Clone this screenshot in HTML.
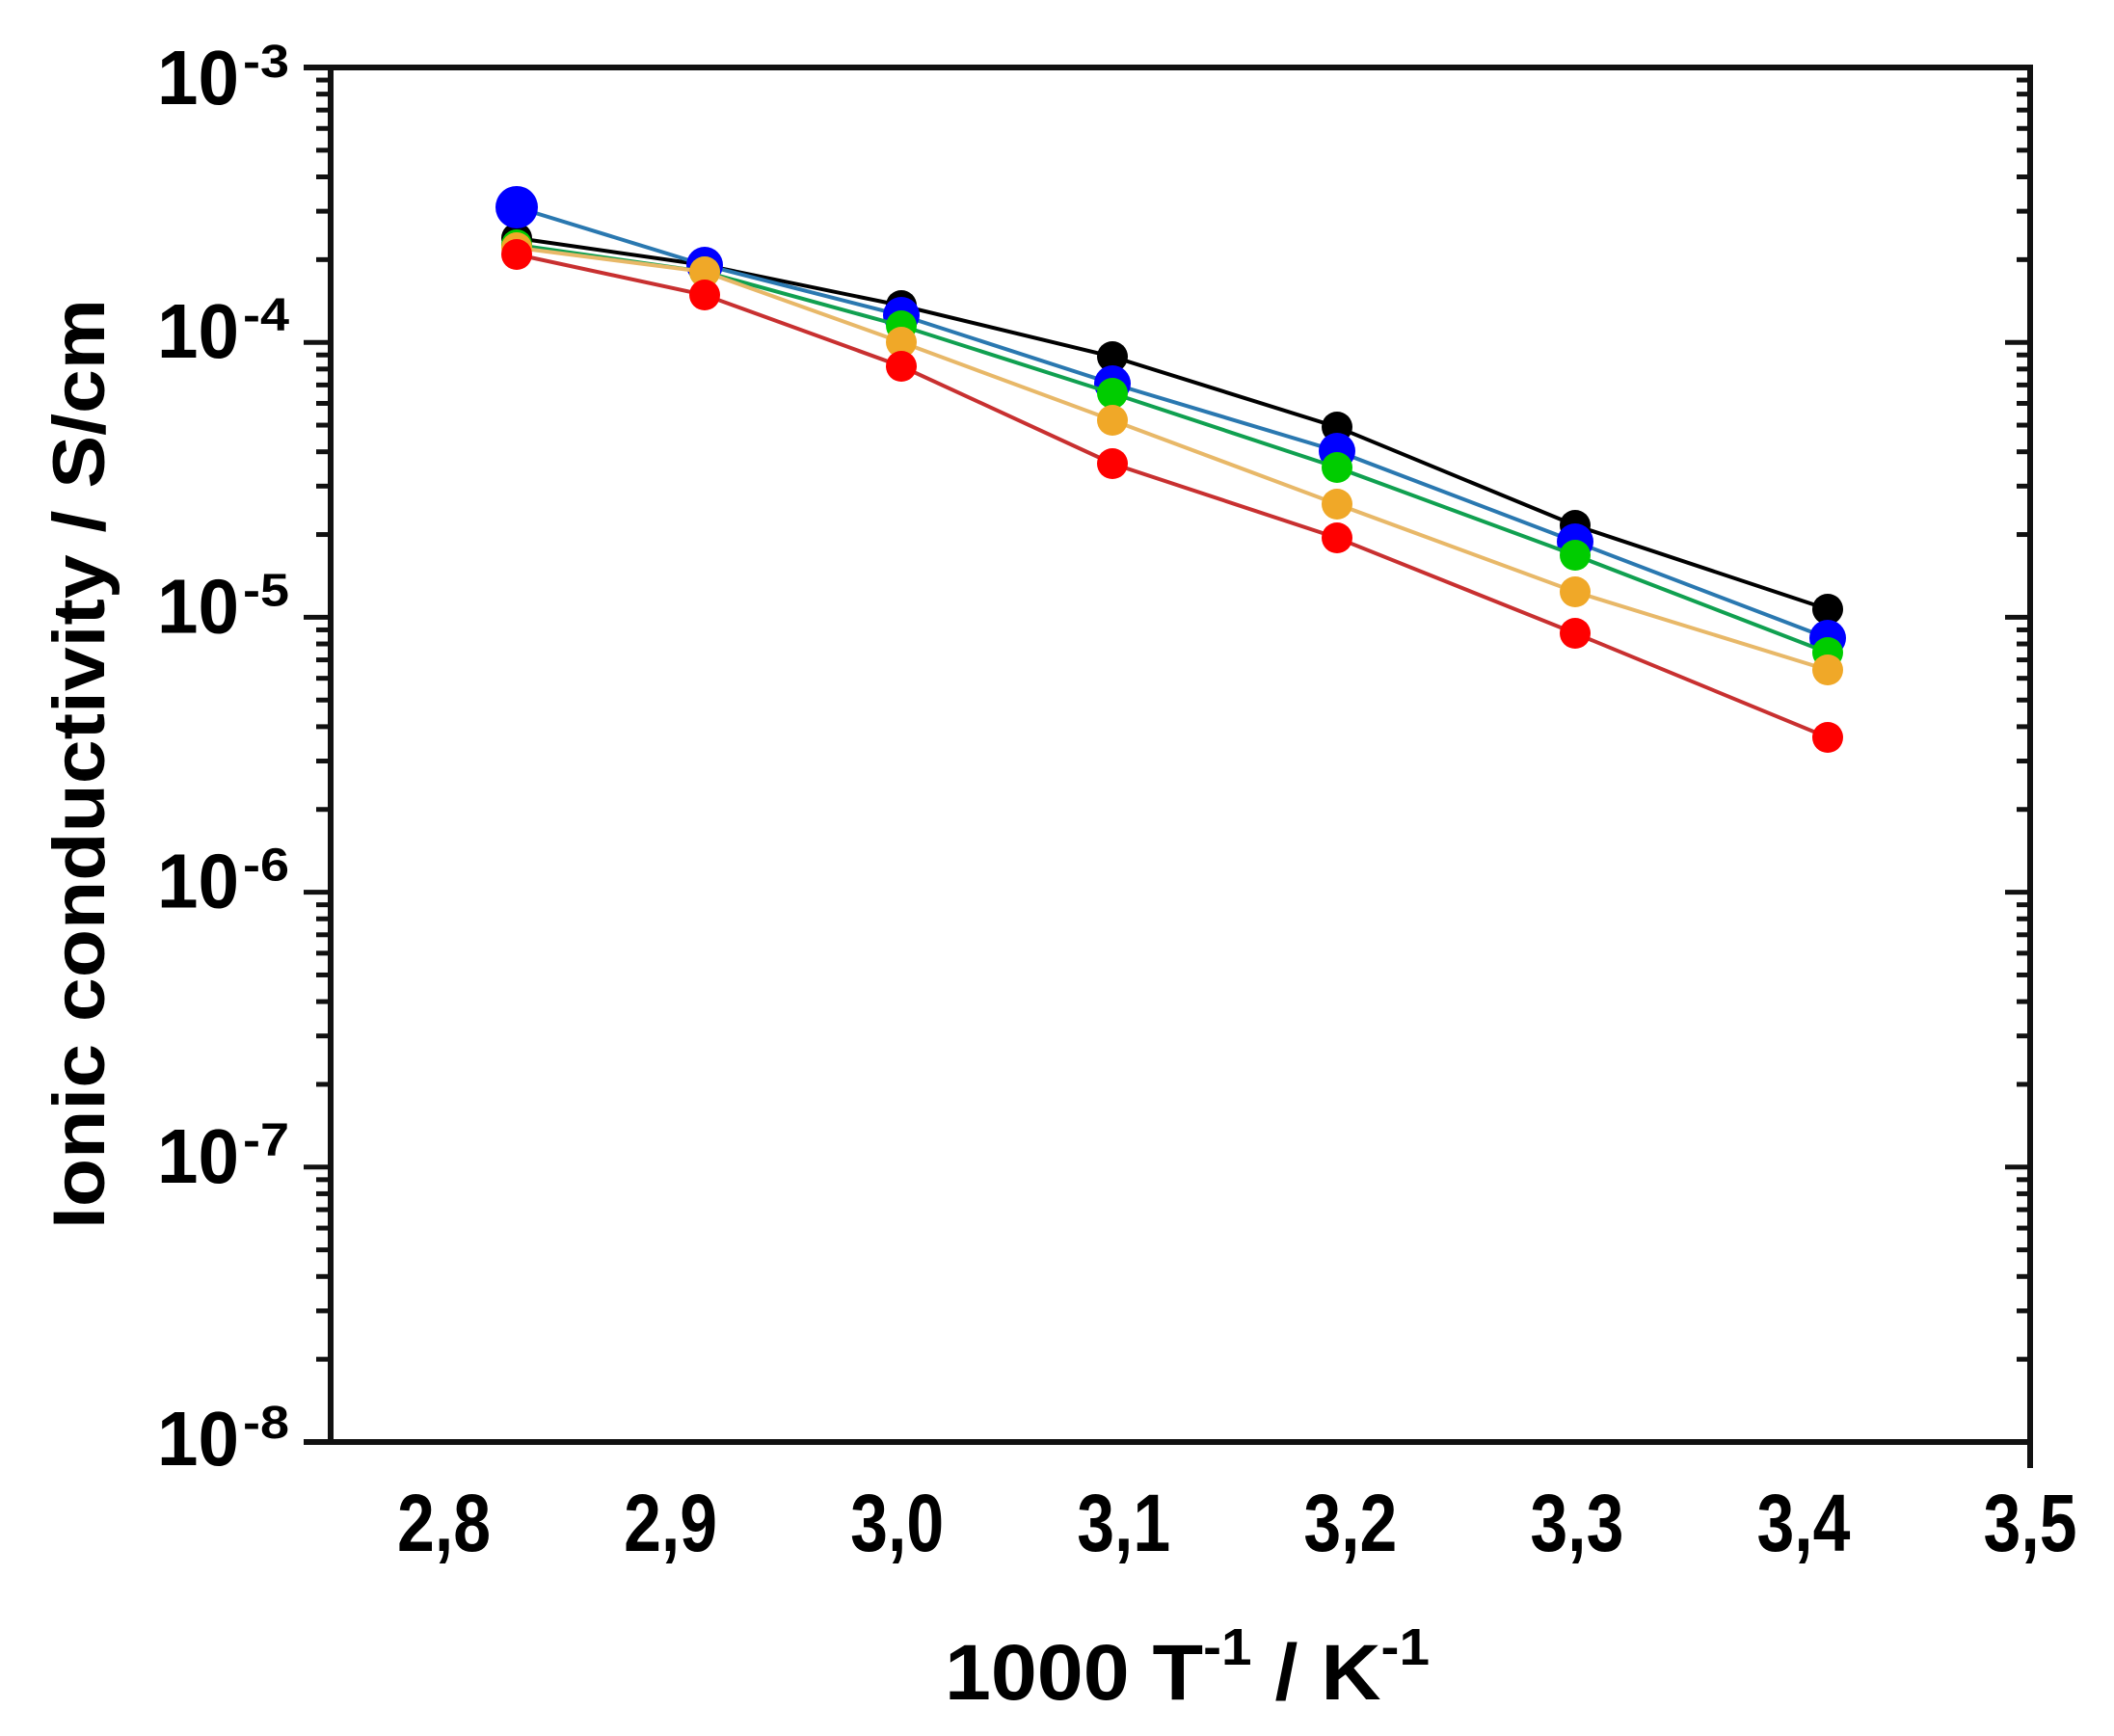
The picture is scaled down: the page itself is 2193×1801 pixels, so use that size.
<!DOCTYPE html>
<html><head><meta charset="utf-8"><style>
html,body{margin:0;padding:0;background:#fff;}
svg{display:block;}
</style></head><body>
<svg width="2193" height="1801" viewBox="0 0 2193 1801" xmlns="http://www.w3.org/2000/svg" font-family="Liberation Sans, sans-serif">
<rect width="2193" height="1801" fill="#fff"/>
<g id="ticks" stroke="#111" stroke-width="5"></g>
<g stroke="#111" stroke-width="6" fill="none">
<line x1="315" y1="70" x2="2106" y2="70"/>
<line x1="315" y1="1496" x2="2106" y2="1496"/>
<line x1="343" y1="67" x2="343" y2="1499"/>
<line x1="2106" y1="67" x2="2106" y2="1523"/>
</g>
<g id="data"></g>
<g id="ylabels" font-weight="bold" fill="#000"></g>
<g id="xlabels" font-size="84" font-weight="bold" fill="#000" text-anchor="middle"></g>
<text x="980" y="1763" font-size="82" font-weight="bold" textLength="503" lengthAdjust="spacingAndGlyphs">1000 T<tspan font-size="54" dy="-36">-1</tspan><tspan dy="36"> / K</tspan><tspan font-size="54" dy="-36">-1</tspan></text>
<text transform="translate(108,1275) rotate(-90)" font-size="76" font-weight="bold" textLength="965" lengthAdjust="spacingAndGlyphs">Ionic conductivity / S/cm</text>
<script>
const NS="http://www.w3.org/2000/svg";
function el(p,n,a,t){const e=document.createElementNS(NS,n);for(const k in a)e.setAttribute(k,a[k]);if(t)e.textContent=t;p.appendChild(e);return e;}
const X=v=>343+(v-2.75)*2350.7, Y=l=>70+(-3-l)*285.2;
const tk=document.getElementById('ticks');
for(let d=-8;d<=-3;d++){
  const y=Y(d);
  el(tk,'line',{x1:315,y1:y,x2:343,y2:y});
  el(tk,'line',{x1:2106,y1:y,x2:2080,y2:y});
  if(d<-3)for(let m=2;m<=9;m++){const yy=Y(d+Math.log10(m));
    el(tk,'line',{x1:328,y1:yy,x2:343,y2:yy});
    el(tk,'line',{x1:2106,y1:yy,x2:2092,y2:yy});}
}
const yl=document.getElementById('ylabels');
for(let d=-8;d<=-3;d++){const y=Y(d);
  let b=16,s=-12;
  if(d==-3){b=38;s=10;} else if(d==-8){b=24;s=-4;}
  el(yl,'text',{x:163,y:y+b,'font-size':80,textLength:85,lengthAdjust:'spacingAndGlyphs'},'10');
  el(yl,'text',{x:252,y:y+s,'font-size':48,textLength:48,lengthAdjust:'spacingAndGlyphs'},String(d));
}
const xl=document.getElementById('xlabels');
['2,8','2,9','3,0','3,1','3,2','3,3','3,4','3,5'].forEach((s,i)=>el(xl,'text',{x:X(2.8+i*0.1),y:1609,textLength:97,lengthAdjust:'spacingAndGlyphs'},s));
const xs=[536,731,935,1154,1387,1634,1896];
const series=[
 {lc:'#000',mc:'#000',r:16,y:[247,275,317,370,443,545,632]},
 {lc:'#2a78b0',mc:'#0000ff',r:19,y:[215,275,327,398,468,562,662],r0:22},
 {lc:'#10a050',mc:'#00cc00',r:16,y:[254,282,338,408,485,576,677]},
 {lc:'#e8b868',mc:'#f0a828',r:16,y:[257,282,355,436,523,614,695]},
 {lc:'#c83030',mc:'#ff0000',r:16,y:[264,306,380,481,558,657,765]}
];
const dg=document.getElementById('data');
series.forEach(s=>{
  el(dg,'polyline',{points:xs.map((x,i)=>x+','+s.y[i]).join(' '),fill:'none',stroke:s.lc,'stroke-width':4});
  xs.forEach((x,i)=>el(dg,'circle',{cx:x,cy:s.y[i],r:(i==0&&s.r0)?s.r0:s.r,fill:s.mc}));
});
</script>
</svg>
</body></html>
